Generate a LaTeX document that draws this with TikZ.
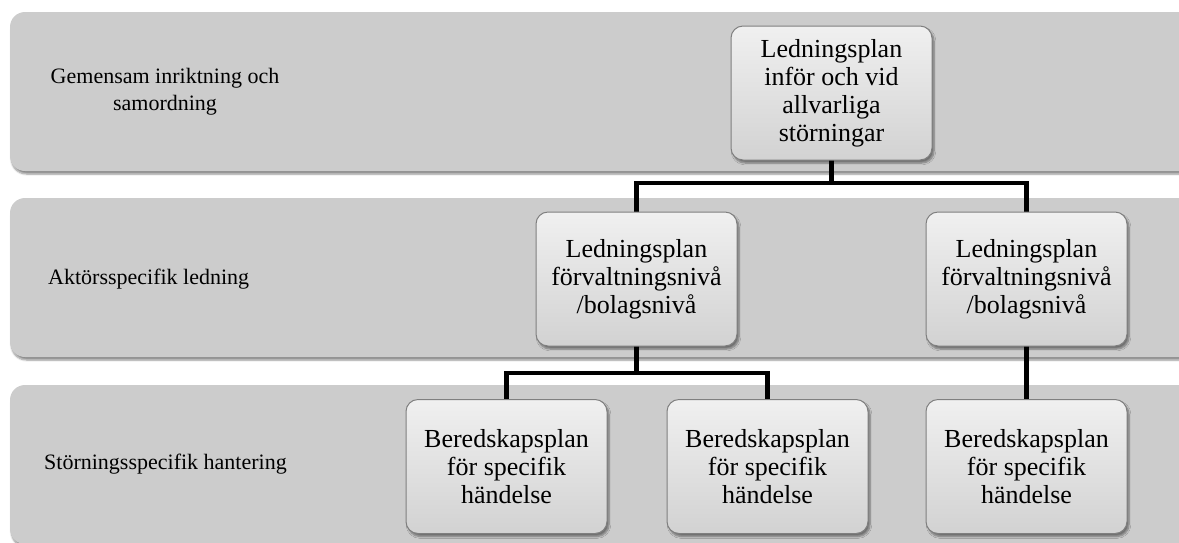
\documentclass[tikz,border=0pt]{standalone}
\usepackage{fontspec}
\setmainfont{Liberation Serif}
\usetikzlibrary{shadows.blur}
\definecolor{bandgray}{HTML}{CCCCCC}
\definecolor{boxborder}{HTML}{7F7F7F}
\definecolor{boxtop}{HTML}{F0F0F0}
\definecolor{boxbot}{HTML}{D2D2D2}
\begin{document}
\begin{tikzpicture}[x=1pt,y=-1pt,
  band/.style={fill=bandgray, rounded corners=15pt, inner sep=0pt, minimum width=1190pt, minimum height=159pt,
    blur shadow={shadow xshift=1.5pt, shadow yshift=-3pt, shadow blur steps=6, shadow opacity=45}},
  plan/.style={draw=boxborder, line width=1pt, rounded corners=12pt, top color=boxtop, bottom color=boxbot,
    minimum width=201pt, minimum height=134pt, align=center, inner sep=0pt,
    font=\fontsize{26}{28}\selectfont,
    blur shadow={shadow xshift=2pt, shadow yshift=-3pt, shadow blur steps=6, shadow opacity=45}},
  lbl/.style={font=\fontsize{22}{27}\selectfont, align=center, inner sep=0pt},
  conn/.style={line width=4.5pt, draw=black, line join=miter}]
\useasboundingbox (0,0) rectangle (1179,542);
\clip (0,0) rectangle (1179,542);
% bands
\node[band] (band1) at (605,91.5) {};
\node[band] (band2) at (605,277.5) {};
\node[band] (band3) at (605,464.5) {};
% band labels
\node[lbl] (l1) at (165,92) {Gemensam inriktning och\\samordning};
\node[lbl, anchor=west] (l2) at (48,279) {Aktörsspecifik ledning};
\node[lbl, anchor=west] (l3) at (44,464) {Störningsspecifik hantering};
% junctions
\coordinate (j1) at (831.5,183);
\coordinate (j2) at (636.5,373);
% connectors (drawn before boxes)
\draw[conn] (831.5,160) -- (j1) -| (636.5,212);
\draw[conn] (j1) -| (1026.5,212);
\draw[conn] (636.5,346) -- (j2) -| (506.5,400);
\draw[conn] (j2) -| (767.5,400);
\draw[conn] (1026.5,346) -- (1026.5,400);
% boxes
\node[plan] (top) at (831.5,93) {Ledningsplan\\inför och vid\\allvarliga\\störningar};
\node[plan] (ml) at (636.5,279) {Ledningsplan\\förvaltningsnivå\\/bolagsnivå};
\node[plan] (mr) at (1026.5,279) {Ledningsplan\\förvaltningsnivå\\/bolagsnivå};
\node[plan] (bl) at (506.5,466.5) {Beredskapsplan\\för specifik\\händelse};
\node[plan] (bm) at (767.5,466.5) {Beredskapsplan\\för specifik\\händelse};
\node[plan] (br) at (1026.5,466.5) {Beredskapsplan\\för specifik\\händelse};
\end{tikzpicture}
\end{document}
